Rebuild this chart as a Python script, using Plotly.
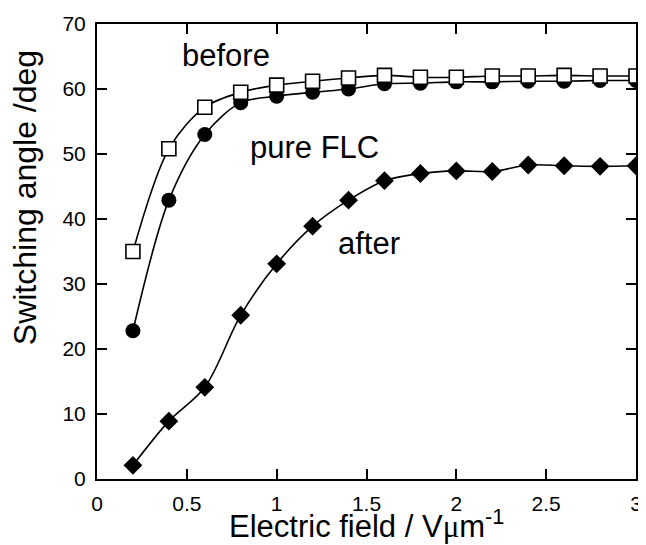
import plotly.graph_objects as go

field = [0.2, 0.4, 0.6, 0.8, 1.0, 1.2, 1.4, 1.6, 1.8, 2.0, 2.2, 2.4, 2.6, 2.8, 3.0]
before = [35.0, 50.8, 57.2, 59.5, 60.6, 61.2, 61.7, 62.1, 61.8, 61.8, 62.0, 62.0, 62.1, 62.0, 62.0]
pure_flc = [22.8, 42.9, 53.0, 57.9, 58.9, 59.5, 60.0, 60.8, 60.9, 61.1, 61.1, 61.2, 61.2, 61.3, 61.3]
after = [2.1, 8.9, 14.1, 25.2, 33.1, 38.9, 42.9, 45.9, 47.0, 47.4, 47.3, 48.3, 48.2, 48.1, 48.2]

x_ticks = [0, 0.5, 1, 1.5, 2, 2.5, 3]
x_ticklabels = ["0", "0.5", "1", "1.5", "2", "2.5", "3"]
y_ticks = [0, 10, 20, 30, 40, 50, 60, 70]

FONT = "Arial, Liberation Sans, Helvetica, sans-serif"

fig = go.Figure()

for ys in (before, pure_flc, after):
    fig.add_trace(go.Scatter(x=field, y=ys, mode="lines",
                             line=dict(color="black", width=1.6, shape="spline", smoothing=0.9),
                             showlegend=False, hoverinfo="skip", cliponaxis=False))

fig.add_trace(go.Scatter(x=field, y=after, mode="markers", showlegend=False, cliponaxis=False,
                         marker=dict(symbol="diamond", size=14.5, color="black",
                                     line=dict(color="black", width=0))))
fig.add_trace(go.Scatter(x=field, y=pure_flc, mode="markers", showlegend=False, cliponaxis=False,
                         marker=dict(symbol="circle", size=15, color="black",
                                     line=dict(color="black", width=0))))
fig.add_trace(go.Scatter(x=field, y=before, mode="markers", showlegend=False, cliponaxis=False,
                         marker=dict(symbol="square", size=14, color="white",
                                     line=dict(color="black", width=1.6))))

axis_common = dict(showgrid=False, zeroline=False, showline=True, linecolor="black", linewidth=2,
                   mirror="allticks", ticks="inside", ticklen=10, tickwidth=1.5, tickcolor="black")

fig.update_xaxes(range=[0, 3], tickvals=x_ticks, ticktext=x_ticklabels,
                 tickfont=dict(family=FONT, size=21, color="black"), ticklabelstandoff=5,
                 **axis_common)
fig.update_yaxes(range=[0, 70], tickvals=y_ticks,
                 tickfont=dict(family=FONT, size=21, color="black"), ticklabelstandoff=5,
                 **axis_common)

ann_font = dict(family=FONT, size=31, color="black")
fig.add_annotation(x=0.718, y=65.1, xref="x", yref="y", text="before", showarrow=False, font=ann_font)
fig.add_annotation(x=1.213, y=51.0, xref="x", yref="y", text="pure FLC", showarrow=False, font=ann_font)
fig.add_annotation(x=1.514, y=36.3, xref="x", yref="y", text="after", showarrow=False, font=ann_font)

fig.add_annotation(x=0.5, y=-0.146, xref="paper", yref="paper", xanchor="center", yanchor="bottom",
                   showarrow=False, borderpad=0,
                   text="Electric field / V<span style='font-family:Liberation Serif, Times New Roman, serif'>μ</span>m<sup>-1</sup>",
                   font=dict(family=FONT, size=31, color="black"))
fig.add_annotation(x=-0.132, y=0.619, xref="paper", yref="paper", xanchor="center", yanchor="middle",
                   showarrow=False, textangle=-90, borderpad=0,
                   text="Switching angle /deg", font=dict(family=FONT, size=32, color="black"))

# page body has an 8px margin, so the figure is shrunk and shifted to match the window
fig.update_layout(width=638, height=537, plot_bgcolor="white", paper_bgcolor="white",
                  margin=dict(l=89, r=10, t=16, b=66, autoexpand=False),
                  font=dict(family=FONT, color="black"))

fig.write_html("out.html")
